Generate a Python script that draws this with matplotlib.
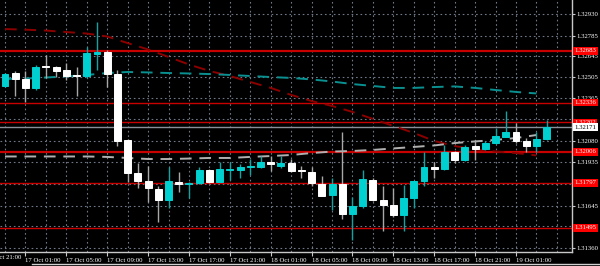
import numpy as np
import matplotlib.pyplot as plt

# hourly candles, 16 Oct 23:00 .. 19 Oct 04:00
opens = [1.32447, 1.32532, 1.32492, 1.32434, 1.32578, 1.32576, 1.32552, 1.32521, 1.32514, 1.32664,
         1.32677, 1.32525, 1.32085, 1.31861, 1.31810, 1.31754, 1.31682, 1.31805, 1.31789, 1.31794,
         1.31883, 1.31805, 1.31883, 1.31883, 1.31903, 1.31901, 1.31939, 1.31912, 1.31930, 1.31883,
         1.31872, 1.31789, 1.31716, 1.31789, 1.31586, 1.31642, 1.31818, 1.31682, 1.31648, 1.31581,
         1.31697, 1.31810, 1.31903, 1.31890, 1.32002, 1.31950, 1.32046, 1.32024, 1.32063, 1.32107,
         1.32140, 1.32080, 1.32046, 1.32091]
highs = [1.32534, 1.32550, 1.32548, 1.32590, 1.32655, 1.32581, 1.32599, 1.32574, 1.32711, 1.32874,
         1.32689, 1.32554, 1.32091, 1.31928, 1.31912, 1.31776, 1.31905, 1.31872, 1.31805, 1.31905,
         1.31890, 1.31939, 1.31939, 1.31922, 1.31957, 1.31979, 1.31979, 1.31979, 1.31957, 1.31910,
         1.31905, 1.31843, 1.31828, 1.32140, 1.31704, 1.31883, 1.31830, 1.31776, 1.31761, 1.31783,
         1.31810, 1.32006, 1.31939, 1.32051, 1.32011, 1.32051, 1.32085, 1.32080, 1.32163, 1.32279,
         1.32197, 1.32096, 1.32140, 1.32219]
lows = [1.32440, 1.32382, 1.32342, 1.32420, 1.32503, 1.32509, 1.32487, 1.32382, 1.32501, 1.32554,
        1.32442, 1.32046, 1.31805, 1.31761, 1.31667, 1.31536, 1.31630, 1.31734, 1.31693, 1.31789,
        1.31796, 1.31803, 1.31816, 1.31832, 1.31850, 1.31897, 1.31877, 1.31899, 1.31873, 1.31828,
        1.31778, 1.31709, 1.31615, 1.31555, 1.31414, 1.31626, 1.31675, 1.31474, 1.31570, 1.31474,
        1.31626, 1.31778, 1.31828, 1.31883, 1.31928, 1.31944, 1.31950, 1.32018, 1.32058, 1.32105,
        1.32063, 1.32006, 1.32006, 1.32085]
closes = [1.32527, 1.32494, 1.32436, 1.32576, 1.32576, 1.32548, 1.32516, 1.32517, 1.32666, 1.32677,
          1.32525, 1.32078, 1.31861, 1.31810, 1.31761, 1.31682, 1.31810, 1.31787, 1.31796, 1.31883,
          1.31805, 1.31890, 1.31888, 1.31905, 1.31910, 1.31939, 1.31922, 1.31930, 1.31877, 1.31879,
          1.31794, 1.31711, 1.31789, 1.31586, 1.31642, 1.31823, 1.31680, 1.31648, 1.31581, 1.31695,
          1.31810, 1.31903, 1.31890, 1.32002, 1.31950, 1.32038, 1.32024, 1.32067, 1.32111, 1.32140,
          1.32078, 1.32046, 1.32091, 1.32171]

# moving averages, read every second bar
ma_idx = list(range(0, 53, 2))
ma_slow = [1.32829, 1.32825, 1.32819, 1.32809, 1.32799, 1.32779, 1.32735, 1.32692, 1.32642, 1.32591,
           1.32548, 1.32514, 1.32474, 1.32434, 1.32387, 1.32346, 1.32313, 1.32273, 1.32226, 1.32179,
           1.32132, 1.32078, 1.32044, 1.32021, 1.32007, 1.31997, 1.31981]
ma_mid = [1.32494, 1.32497, 1.32504, 1.32511, 1.32521, 1.32534, 1.32541, 1.32538, 1.32534, 1.32531,
          1.32527, 1.32521, 1.32514, 1.32507, 1.32501, 1.32491, 1.32477, 1.32460, 1.32447, 1.32434,
          1.32434, 1.32440, 1.32444, 1.32434, 1.32420, 1.32407, 1.32397]
ma_fast = [1.31974, 1.31974, 1.31974, 1.31974, 1.31974, 1.31971, 1.31964, 1.31957, 1.31957, 1.31960,
           1.31964, 1.31964, 1.31971, 1.31977, 1.31984, 1.31997, 1.32007, 1.32011, 1.32018, 1.32028,
           1.32038, 1.32048, 1.32064, 1.32075, 1.32085, 1.32098, 1.32118]

levels = [1.32683, 1.32336, 1.32202, 1.32006, 1.31797, 1.31495]
level_lw = [1.6, 1.0, 1.0, 1.6, 1.0, 1.0]
last_price = 1.32171

price_ticks = [1.31360, 1.31505, 1.31645, 1.31790, 1.31935, 1.32080,
               1.32225, 1.32365, 1.32505, 1.32645, 1.32785, 1.32930]
# scale labels hidden behind the level boxes are left blank
price_labels = ['1.31360', '', '1.31645', '', '1.31935', '1.32080',
                '', '1.32365', '1.32505', '1.32645', '1.32785', '1.32930']
time_labels = ['16 Oct 21:00', '17 Oct 01:00', '17 Oct 05:00', '17 Oct 09:00', '17 Oct 13:00',
               '17 Oct 17:00', '17 Oct 21:00', '18 Oct 01:00', '18 Oct 05:00', '18 Oct 09:00',
               '18 Oct 13:00', '18 Oct 17:00', '18 Oct 21:00', '19 Oct 01:00']
time_pos = np.arange(-2, 51, 4)

font = 'Liberation Serif'
fs = 4.9
fig = plt.figure(figsize=(6, 2.66), dpi=100, facecolor='black')
ax = fig.add_axes([0, 14 / 266, 572 / 600, 252 / 266], facecolor='black')

x = np.arange(len(opens))
o = np.array(opens)
c = np.array(closes)
up = c >= o

# grid
grid_col = '#6e7888'
ax.set_xticks(time_pos[1:])
ax.set_xticklabels(time_labels[1:])
ax.set_xticks(np.arange(0, 56, 2), minor=True)
ax.grid(True, which='both', color=grid_col, ls=(0, (1.5, 2.5)), lw=0.8)
ax.set_axisbelow(True)

# first label sits left of the window, only its end shows
ax.text(time_pos[0] + 0.1, -0.012, time_labels[0], transform=ax.get_xaxis_transform(),
        ha='left', va='top', fontsize=fs, family=font, color='white', clip_on=False)

# horizontal levels
for lv, lw in zip(levels, level_lw):
    ax.axhline(lv, color='#c80000', lw=lw, zorder=2)
ax.axhline(last_price, color='#8a8f98', lw=1.0, zorder=2)

# moving averages
ax.plot(ma_idx, ma_slow, color='#8c0000', lw=1.4, ls=(0, (6, 4)), zorder=3)
ax.plot(ma_idx, ma_mid, color='#0a9090', lw=1.4, ls=(0, (6, 4)), zorder=3)
ax.plot(ma_idx, ma_fast, color='#b0b0b0', lw=1.4, ls=(0, (6, 4)), zorder=3)

# candles
wick_cols = np.where(up, '#13a3a3', '#a8a8a8')
body_cols = np.where(up, '#00d0d0', '#ffffff')
ax.vlines(x, lows, highs, colors=wick_cols, lw=1.0, zorder=4)
ax.bar(x, np.abs(c - o), bottom=np.minimum(o, c), width=0.68,
       color=body_cols, edgecolor=body_cols, lw=0.7, zorder=5)

ax.set_xlim(-0.49, 55.48)
ax.set_ylim(1.31333, 1.33024)

ax.yaxis.tick_right()
ax.set_yticks(price_ticks)
ax.set_yticklabels(price_labels)

for s in ['top', 'left']:
    ax.spines[s].set_visible(False)
for s in ['right', 'bottom']:
    ax.spines[s].set_color('#c8c8c8')
    ax.spines[s].set_linewidth(1.0)

ax.tick_params(axis='x', which='major', colors='#c8c8c8', labelcolor='white',
               length=3, pad=1, labelsize=fs)
ax.tick_params(axis='x', which='minor', length=0)
ax.tick_params(axis='y', colors='#c8c8c8', labelcolor='white', length=2, pad=1, labelsize=fs)
for lbl in ax.get_xticklabels() + ax.get_yticklabels():
    lbl.set_fontfamily(font)
for lbl in ax.get_xticklabels():
    lbl.set_ha('left')

# price labels on the right scale
tr = ax.get_yaxis_transform()
for lv in levels:
    ax.text(1.004, lv, '%.5f' % lv, transform=tr, ha='left', va='center', fontsize=fs,
            family=font, color='white', clip_on=False, zorder=10,
            bbox=dict(boxstyle='square,pad=0.2', fc='#ff0000', ec='none'))
ax.text(1.004, last_price, '%.5f' % last_price, transform=tr, ha='left', va='center',
        fontsize=fs, family=font, color='black', clip_on=False, zorder=10,
        bbox=dict(boxstyle='square,pad=0.2', fc='white', ec='none'))

fig.add_artist(plt.Line2D([32 / 600, 1], [2 / 266, 2 / 266], color='#d0d0d0', lw=1))

fig.savefig('out.png', dpi=100, facecolor='black')
